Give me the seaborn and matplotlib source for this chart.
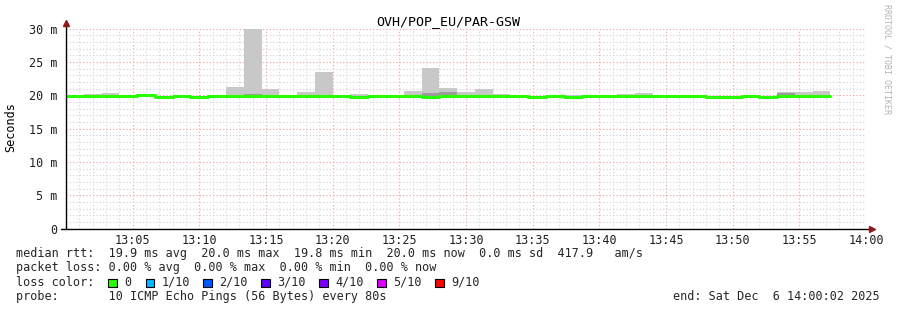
import numpy as np
import matplotlib
matplotlib.use("Agg")
import matplotlib.pyplot as plt
import seaborn as sns
from matplotlib.patches import Rectangle
from matplotlib.ticker import MultipleLocator, FixedLocator

# ---------------- data (ms) ----------------
step_seconds = 80
median_ms = [19.9, 19.9, 19.9, 19.85, 20.0, 19.8, 19.9, 19.8, 19.9, 19.9,
             19.95, 19.9, 19.9, 19.9, 19.9, 19.9, 19.8, 19.9, 19.9, 19.9,
             19.8, 19.9, 19.9, 19.9, 19.9, 19.9, 19.8, 19.9, 19.8, 19.9,
             19.85, 19.9, 19.9, 19.9, 19.85, 19.9, 19.8, 19.8, 19.9, 19.8,
             19.9, 19.9, 19.95]
smoke_min = [19.85, 19.85, 19.85, 19.7, 19.75, 19.75, 19.85, 19.75, 19.85, 19.85,
             19.8, 19.85, 19.85, 19.75, 19.85, 19.85, 19.7, 19.85, 19.85, 19.85,
             19.75, 19.85, 19.85, 19.85, 19.85, 19.85, 19.6, 19.85, 19.75, 19.85,
             19.7, 19.85, 19.85, 19.7, 19.75, 19.85, 19.75, 19.75, 19.85, 19.75,
             19.85, 19.85, 19.75]
smoke_max = [20.05, 20.15, 20.3, 19.95, 20.05, 19.95, 20.1, 19.95, 20.05, 21.25,
             30.0, 21.0, 19.95, 20.45, 23.5, 19.95, 20.25, 19.95, 19.95, 20.6,
             24.15, 21.05, 20.5, 21.0, 20.15, 19.95, 19.95, 19.95, 20.1, 19.95,
             19.95, 20.15, 20.4, 20.1, 19.95, 20.1, 19.9, 19.9, 20.1, 19.9,
             20.45, 20.45, 20.65]
dense_lo = [19.9, 19.9, 19.9, 19.75, 19.75, 19.8, 19.9, 19.8, 19.9, 19.9,
            19.8, 19.9, 19.9, 19.9, 19.9, 19.9, 19.8, 19.9, 19.9, 19.9,
            19.8, 19.95, 19.9, 19.9, 19.9, 19.9, 19.8, 19.9, 19.8, 19.9,
            19.8, 19.9, 19.9, 19.9, 19.8, 19.9, 19.8, 19.8, 19.9, 19.8,
            19.95, 19.9, 19.8]
dense_hi = [19.9, 19.9, 19.9, 19.9, 19.9, 19.8, 19.9, 19.8, 19.9, 19.9,
            20.15, 19.9, 19.9, 20.1, 19.9, 19.9, 19.85, 19.9, 19.9, 19.9,
            20.35, 20.45, 19.9, 19.9, 19.9, 19.9, 19.8, 19.9, 19.8, 19.9,
            19.8, 19.9, 19.9, 20.05, 19.8, 19.9, 19.8, 19.8, 19.9, 19.8,
            20.3, 19.9, 19.8]

x_tick_labels = ["", "13:05", "13:10", "13:15", "13:20", "13:25", "13:30",
                 "13:35", "13:40", "13:45", "13:50", "13:55", "14:00"]
y_tick_labels = ["0", "5 m", "10 m", "15 m", "20 m", "25 m", "30 m"]

loss_labels = ["0", "1/10", "2/10", "3/10", "4/10", "5/10", "9/10"]
loss_colors = ["#26ff00", "#00b8ff", "#0059ff", "#5e00ff", "#7e00ff", "#dd00ff", "#ff0000"]

title = "OVH/POP_EU/PAR-GSW"
line_rtt = "median rtt:  19.9 ms avg  20.0 ms max  19.8 ms min  20.0 ms now  0.0 ms sd  417.9   am/s"
line_loss = "packet loss: 0.00 % avg  0.00 % max  0.00 % min  0.00 % now"
line_probe = "probe:       10 ICMP Echo Pings (56 Bytes) every 80s"
line_end = "end: Sat Dec  6 14:00:02 2025"

# ---------------- figure ----------------
sns.set_style("white")
plt.rcParams["font.family"] = ["DejaVu Sans Mono"]

W, H = 897, 310
fig = plt.figure(figsize=(W / 100, H / 100), dpi=100)
fig.patch.set_facecolor("white")

def fx(px):
    return px / W

def fy(py):
    return 1 - py / H

ax = fig.add_axes([fx(66), fy(228.7), 800 / W, 200 / H])
ax.set_facecolor("white")

n = len(median_ms)
edges = np.arange(n + 1) * step_seconds / 60.0

def ext(a):
    a = np.asarray(a, dtype=float)
    return np.append(a, a[-1])

ax.fill_between(edges, ext(smoke_min), ext(smoke_max), step="post",
                color="#c8c8c8", lw=0, zorder=2)
ax.fill_between(edges, ext(dense_lo), ext(dense_hi), step="post",
                color="#9c9c9c", lw=0, zorder=3)
sns.lineplot(x=edges, y=ext(median_ms), drawstyle="steps-post", color="#26ff00",
             lw=2.2, ax=ax, zorder=4, errorbar=None)

ax.set_xlim(0, 60)
ax.set_ylim(0, 30)
ax.xaxis.set_major_locator(FixedLocator(np.arange(0, 61, 5)))
ax.set_xticklabels(x_tick_labels)
ax.xaxis.set_minor_locator(MultipleLocator(1))
ax.yaxis.set_major_locator(FixedLocator(np.arange(0, 31, 5)))
ax.set_yticklabels(y_tick_labels)
ax.yaxis.set_minor_locator(MultipleLocator(1))
ax.set_axisbelow(True)
ax.grid(which="minor", color="#cfcfcf", ls=(0, (1, 2)), lw=0.8)
ax.grid(which="major", color="#f29a9a", ls=(0, (1, 2)), lw=0.8)
ax.tick_params(which="both", length=0, labelsize=8.5, colors="#202020")
ax.tick_params(axis="y", pad=6)
ax.tick_params(axis="x", pad=4)
for s in ax.spines.values():
    s.set_visible(False)

# axis lines with arrows
ax.plot([0, 0], [0, 1.022], transform=ax.transAxes, color="black", lw=1.0,
        clip_on=False, zorder=6)
ax.plot([-0.006, 1.004], [0, 0], transform=ax.transAxes, color="black", lw=1.0,
        clip_on=False, zorder=6)
ax.plot([0], [1.028], transform=ax.transAxes, marker="^", ms=4.5, color="#8b1a1a",
        clip_on=False, zorder=7)
ax.plot([1.007], [0], transform=ax.transAxes, marker=">", ms=4.5, color="#8b1a1a",
        clip_on=False, zorder=7)

# texts
fig.text(fx(448), fy(25), title, ha="center", va="baseline", fontsize=9.6, color="black")
fig.text(fx(11), fy(127.5), "Seconds", rotation=90, ha="center", va="center",
         fontsize=8.5, color="black")
fig.text(fx(887), fy(4), "RRDTOOL / TOBI OETIKER", rotation=270, ha="center", va="top",
         fontsize=6.0, color="#b4b4b4")

fig.text(fx(16), fy(257.3), line_rtt, ha="left", va="baseline", fontsize=8.5)
fig.text(fx(16), fy(271.5), line_loss, ha="left", va="baseline", fontsize=8.5)
fig.text(fx(16), fy(285.7), "loss color:", ha="left", va="baseline", fontsize=8.5)
fig.text(fx(16), fy(299.7), line_probe, ha="left", va="baseline", fontsize=8.5)
fig.text(fx(880), fy(299.7), line_end, ha="right", va="baseline", fontsize=8.5)

box_x = [108.3, 145.7, 203, 261, 319, 377, 435]
for bx, lab, col in zip(box_x, loss_labels, loss_colors):
    fig.patches.append(Rectangle((fx(bx), fy(287)), 8.5 / W, 8.5 / H,
                                 transform=fig.transFigure, facecolor=col,
                                 edgecolor="black", lw=0.8))
    fig.text(fx(bx + 16), fy(285.7), lab, ha="left", va="baseline", fontsize=8.5)

fig.savefig("out.png", dpi=100)
